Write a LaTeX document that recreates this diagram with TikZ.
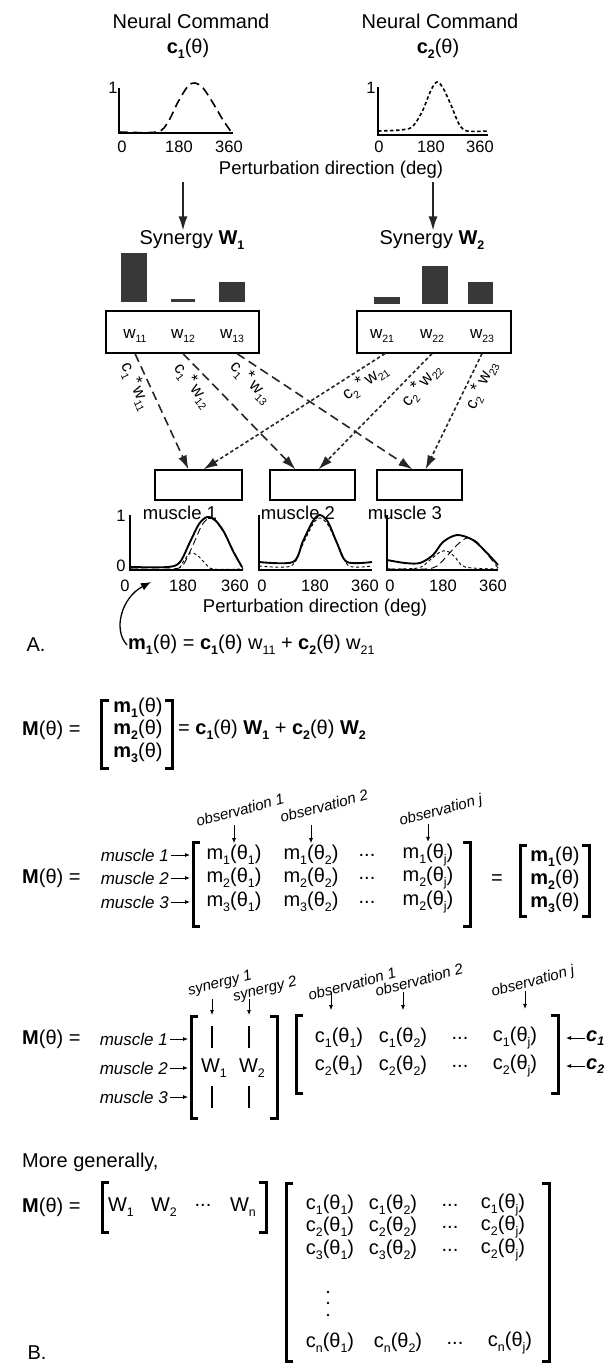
\documentclass[tikz,border=0pt]{standalone}
\usepackage{fontspec}
\setmainfont{Liberation Sans}
\usetikzlibrary{arrows.meta}
\newcommand{\sbs}[1]{\raisebox{-0.45ex}{\scalebox{0.62}{#1}}}
\newcommand{\bsb}[1]{\sbs{\textbf{#1}}}
\tikzset{
  txt/.style={inner sep=0pt, font=\fontsize{20}{24}\selectfont},
  lab/.style={inner sep=0pt, font=\fontsize{18.5}{22}\selectfont},
  tick/.style={inner sep=0pt, font=\fontsize{16.5}{18}\selectfont},
  wl/.style={inner sep=0pt, font=\fontsize{17}{20}\selectfont},
  obs/.style={inner sep=0pt, font=\fontsize{15}{17}\selectfont\itshape, rotate=15},
  mlab/.style={inner sep=0pt, font=\fontsize{17}{20}\selectfont\itshape, anchor=east},
  axis/.style={line width=1.3pt},
  cmdA/.style={line width=1.6pt, dash pattern=on 9pt off 5pt},
  cmdB/.style={line width=1.6pt, dash pattern=on 3.5pt off 2.5pt},
  sumln/.style={line width=1.9pt},
  partA/.style={line width=0.9pt, dash pattern=on 7pt off 4pt},
  partB/.style={line width=0.9pt, dash pattern=on 3pt off 2.5pt},
  link/.style={-{Latex[length=14pt,width=9pt]}, line width=1.4pt, black!85},
  dn/.style={-{Latex[length=5pt,width=4pt]}, line width=0.8pt},
  brk/.style={line width=3pt},
  box/.style={draw, line width=1.2pt, inner sep=0pt},
}
\begin{document}
\begin{tikzpicture}[x=1pt,y=-1pt]
\useasboundingbox (0,0) rectangle (615,1364);

% A. neural commands
\node[txt] (nc1) at (191,21) {Neural Command};
\node[txt] (nc2) at (440,21) {Neural Command};
\node[txt] (cc1) at (188,49) {\textbf{c}\bsb{1}(θ)};
\node[txt] (cc2) at (438,49) {\textbf{c}\bsb{2}(θ)};
\draw[axis] (119,88) -- (119,133) -- (233,133);
\draw[axis] (378,87) -- (378,135) -- (488,135);
\draw[cmdA] plot[smooth] coordinates {(119,132) (157,132) (168,122) (178,102) (188,86) (195,83) (203,88) (213,103) (223,120) (232,133)};
\draw[cmdB] plot[smooth] coordinates {(378,131) (400,130) (412,127) (422,112) (431,90) (437,82) (443,88) (451,105) (459,124) (467,131) (488,131)};
\node[tick] (one1) at (113,88) {1};
\node[tick] (one2) at (371,88) {1};
\foreach \x/\t [count=\i] in {122/0,179/180,229/360,379/0,431/180,480/360}
  \node[tick] (tk\i) at (\x,147) {\t};
\node[lab] (pd1) at (331,170) {Perturbation direction (deg)};

\coordinate (ar1) at (183,182);
\coordinate (ar2) at (433,182);
\node[txt] (syn1) at (192,240) {Synergy \textbf{W}\bsb{1}};
\node[txt] (syn2) at (432,240) {Synergy \textbf{W}\bsb{2}};
\draw[link] (ar1) -- (ar1 |- syn1.north);
\draw[link] (ar2) -- (ar2 |- syn2.north);

% synergy bars
\fill[black!78] (121,253) rectangle (147,302);
\fill[black!78] (171,299) rectangle (195,302);
\fill[black!78] (219,282) rectangle (245,302);
\fill[black!78] (374,297) rectangle (400,304);
\fill[black!78] (422,266) rectangle (448,304);
\fill[black!78] (468,282) rectangle (493,304);

\node[box, minimum width=153pt, minimum height=42pt] (wbox1) at (182.5,332) {};
\node[box, minimum width=154pt, minimum height=42pt] (wbox2) at (434,332) {};
\node[wl] (w11) at (135,336) {w\sbs{11}};
\node[wl] (w12) at (183,336) {w\sbs{12}};
\node[wl] (w13) at (232,336) {w\sbs{13}};
\node[wl] (w21) at (382,336) {w\sbs{21}};
\node[wl] (w22) at (432,336) {w\sbs{22}};
\node[wl] (w23) at (482,336) {w\sbs{23}};

\node[box, minimum width=87pt, minimum height=30pt] (mus1) at (198.5,485) {};
\node[box, minimum width=85pt, minimum height=30pt] (mus2) at (312.5,485) {};
\node[box, minimum width=85pt, minimum height=30pt] (mus3) at (419.5,485) {};

\draw[link, cmdA] (w11 |- wbox1.south) -- ([xshift=-10pt]mus1.north);
\draw[link, cmdA] (w12 |- wbox1.south) -- ([xshift=-17pt]mus2.north);
\draw[link, cmdA] ([xshift=5pt]w13 |- wbox1.south) -- ([xshift=-7pt]mus3.north);
\draw[link, cmdB] ([xshift=3pt]w21 |- wbox2.south) -- ([xshift=5pt]mus1.north);
\draw[link, cmdB] (w22 |- wbox2.south) -- ([xshift=6pt]mus2.north);
\draw[link, cmdB] (w23 |- wbox2.south) -- ([xshift=6pt]mus3.north);

\node[wl, rotate=-65] (k11) at (136,386) {c\sbs{1}\,\raisebox{0.3ex}{*}\,w\sbs{11}};
\node[wl, rotate=-52] (k12) at (193,385) {c\sbs{1}\,\raisebox{0.3ex}{*}\,w\sbs{12}};
\node[wl, rotate=-45] (k13) at (251,382) {c\sbs{1}\,\raisebox{0.3ex}{*}\,w\sbs{13}};
\node[wl, rotate=35] (k21) at (365,382) {c\sbs{2}\,\raisebox{0.3ex}{*}\,w\sbs{21}};
\node[wl, rotate=50] (k22) at (421,385) {c\sbs{2}\,\raisebox{0.3ex}{*}\,w\sbs{22}};
\node[wl, rotate=65] (k23) at (481,385) {c\sbs{2}\,\raisebox{0.3ex}{*}\,w\sbs{23}};

% muscle activations
\draw[axis] (130,515) -- (130,570) -- (243,570);
\draw[axis] (259,515) -- (259,570) -- (372,570);
\draw[axis] (387,515) -- (387,570) -- (498,570);
\draw[sumln] plot[smooth] coordinates {(130,567) (168,567) (180,562) (190,542) (199,524) (207,517) (215,520) (224,532) (233,551) (242,567)};
\draw[partA] plot[smooth] coordinates {(130,569) (172,569) (183,565) (193,545) (202,525) (210,518) (218,524) (228,540) (236,556) (243,569)};
\draw[partB] plot[smooth] coordinates {(130,569) (175,569) (183,562) (190,553) (197,555) (205,563) (213,569) (243,569)};
\draw[sumln] plot[smooth] coordinates {(259,562) (293,562) (303,541) (313,521) (320,515) (328,522) (337,543) (347,562) (372,562)};
\draw[partB] plot[smooth] coordinates {(259,566) (291,566) (302,546) (313,524) (320,518) (328,525) (339,547) (349,566) (372,566)};
\draw[partA] (259,569) -- (372,569);
\draw[sumln] plot[smooth] coordinates {(387,560) (405,563) (420,563) (433,555) (443,542) (457,535) (473,540) (487,553) (498,565)};
\draw[partA] plot[smooth] coordinates {(387,569) (425,569) (437,566) (447,556) (457,545) (467,538) (477,542) (488,555) (498,568)};
\draw[partB] plot[smooth] coordinates {(387,569) (418,568) (430,560) (440,552) (447,551) (455,557) (465,567) (498,569)};
\node[lab] (ml1) at (180,513) {muscle 1};
\node[lab] (ml2) at (298,513) {muscle 2};
\node[lab] (ml3) at (405,513) {muscle 3};
\node[tick] (yt1) at (121,516) {1};
\node[tick] (yt0) at (121,566) {0};
\foreach \x/\t [count=\i] in {125/0,183/180,235/360,262/0,315/180,365/360,390/0,443/180,493/360}
  \node[tick] (mk\i) at (\x,586) {\t};
\node[lab] (pd2) at (315,608) {Perturbation direction (deg)};

\node[txt] (labA) at (36,645) {A.};
\node[txt, anchor=west] (eqA) at (128,645) {\textbf{m}\bsb{1}(θ) = \textbf{c}\bsb{1}(θ) w\sbs{11} + \textbf{c}\bsb{2}(θ) w\sbs{21}};
\coordinate (crv) at (151,582);
\draw[-{Latex[length=10pt,width=8pt]}, line width=1.3pt] ([xshift=-1pt]eqA.west) .. controls (113,630) and (121,598) .. (crv);

% B. matrix forms
\foreach \xa/\xb/\ya/\yb in {101.5/172/700/768, 520/589/845/916, 193/470/842/926, 191/277/1016/1118, 296/558/1015/1093, 102/266/1182/1232, 286/549/1183/1361} {
  \draw[brk] (\xa+7,\ya) -- (\xa,\ya) -- (\xa,\yb) -- (\xa+7,\yb);
  \draw[brk] (\xb-7,\ya) -- (\xb,\ya) -- (\xb,\yb) -- (\xb-7,\yb);
}

\node[txt, anchor=west] (M1) at (22,730) {\textbf{M}(θ) =};
\foreach \r/\y in {1/708,2/730,3/753}
  \node[txt] (mv\r) at (138,\y) {\textbf{m}\bsb{\r}(θ)};
\node[txt, anchor=west] (eqB) at (178,730) {= \textbf{c}\bsb{1}(θ) \textbf{W}\bsb{1} + \textbf{c}\bsb{2}(θ) \textbf{W}\bsb{2}};

\node[txt, anchor=west] (M2) at (22,878) {\textbf{M}(θ) =};
\foreach \r/\y/\l in {1/855/1,2/878/2,3/902/2} {
  \node[mlab] (mu\r) at (169,\y) {muscle \r};
  \draw[dn] (mu\r.east) ++(2pt,0) -- (190,\y);
  \node[txt] (ma\r) at (234,\y) {m\sbs{\r}(θ\sbs{1})};
  \node[txt] (mb\r) at (311,\y) {m\sbs{\r}(θ\sbs{2})};
  \node[txt] (md\r) at (367,\y) {...};
  \node[txt] (mj\r) at (428,\y) {m\sbs{\l}(θ\sbs{j})};
}
\node[obs] (ob1) at (240,810) {observation 1};
\node[obs] (ob2) at (324,806) {observation 2};
\node[obs] (obj) at (441,811) {observation j};
\foreach \n in {a,b,j}
  \draw[dn] ([yshift=20pt]m\n1.north) -- ([yshift=2pt]m\n1.north);
\node[txt] (eq2) at (497,880) {=};
\foreach \r/\y in {1/857,2/880,3/903}
  \node[txt] (mw\r) at (555,\y) {\textbf{m}\bsb{\r}(θ)};

\node[txt, anchor=west] (M3) at (22,1039) {\textbf{M}(θ) =};
\foreach \r/\y in {1/1039,2/1068,3/1097} {
  \node[mlab] (sm\r) at (168,\y) {muscle \r};
  \draw[dn] (sm\r.east) ++(2pt,0) -- (188,\y);
}
\draw[line width=1.5pt] (212,1026) -- (212,1048) (212,1086) -- (212,1108);
\draw[line width=1.5pt] (249,1026) -- (249,1048) (249,1086) -- (249,1108);
\node[txt] (W1) at (214,1068) {W\sbs{1}};
\node[txt] (W2) at (252,1068) {W\sbs{2}};
\node[obs, rotate=-1] (sy1) at (220,984) {synergy 1};
\node[obs, rotate=-1] (sy2) at (265,990) {synergy 2};
\coordinate (sa1) at (212,999);
\coordinate (sa2) at (249,999);
\draw[dn] (sa1) -- ++(0,16);
\draw[dn] (sa2) -- ++(0,16);
\foreach \r/\y in {1/1038,2/1066} {
  \node[txt] (ca\r) at (339,\y) {c\sbs{\r}(θ\sbs{1})};
  \node[txt] (cb\r) at (403,\y) {c\sbs{\r}(θ\sbs{2})};
  \node[txt] (cd\r) at (460,\y) {...};
  \node[txt] (cj\r) at (515,\y) {c\sbs{\r}(θ\sbs{j})};
  \node[txt, anchor=west] (cr\r) at (586,\y) {\textbf{\textit{c}}\bsb{\textit{\r}}};
  \draw[dn] (cr\r.west) ++(-1pt,0) -- (566,\y);
}
\node[obs] (oc1) at (352,984) {observation 1};
\node[obs] (oc2) at (419,980) {observation 2};
\node[obs] (ocj) at (533,982) {observation j};
\draw[dn] ([xshift=-8pt,yshift=36pt]ca1.north) -- ([xshift=-8pt,yshift=18pt]ca1.north);
\draw[dn] ([yshift=36pt]cb1.north) -- ([yshift=18pt]cb1.north);
\draw[dn] ([xshift=10pt,yshift=36pt]cj1.north) -- ([xshift=10pt,yshift=18pt]cj1.north);

\node[txt, anchor=west] (gen) at (22,1162) {More generally,};
\node[txt, anchor=west] (M4) at (22,1207) {\textbf{M}(θ) =};
\node[txt] (gw1) at (121,1207) {W\sbs{1}};
\node[txt] (gw2) at (164,1207) {W\sbs{2}};
\node[txt] (gwd) at (203,1205) {...};
\node[txt] (gwn) at (243,1207) {W\sbs{n}};
\foreach \r/\y/\l in {1/1205/1,2/1227/2,3/1250/2} {
  \node[txt] (ga\r) at (330,\y) {c\sbs{\r}(θ\sbs{1})};
  \node[txt] (gb\r) at (393,\y) {c\sbs{\r}(θ\sbs{2})};
  \node[txt] (gd\r) at (450,\y) {...};
  \node[txt] (gj\r) at (503,\y) {c\sbs{\l}(θ\sbs{j})};
}
\foreach \y in {1292,1303,1315}
  \fill (328,\y) circle (1.3pt);
\node[txt] (gan) at (330,1343) {c\sbs{n}(θ\sbs{1})};
\node[txt] (gbn) at (398,1343) {c\sbs{n}(θ\sbs{2})};
\node[txt] (gdn) at (455,1343) {...};
\node[txt] (gjn) at (510,1343) {c\sbs{n}(θ\sbs{j})};
\node[txt] (labB) at (37,1353) {B.};
\end{tikzpicture}
\end{document}
